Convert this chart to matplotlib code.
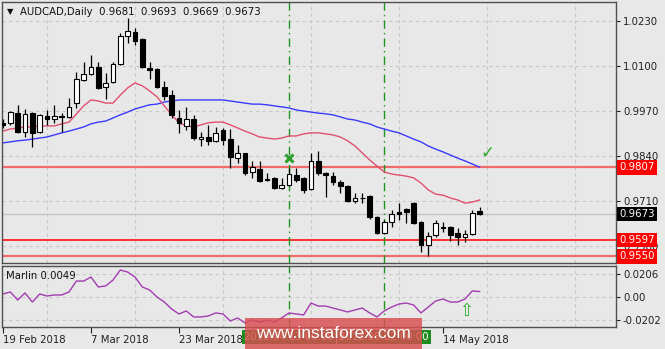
import matplotlib
matplotlib.use('Agg')
import matplotlib.pyplot as plt
import matplotlib.transforms as mtrans
from matplotlib.patches import Rectangle
import numpy as np

plt.rcParams['font.family'] = ['DejaVu Sans']

# daily AUDCAD candles, 19 Feb 2018 .. 17 May 2018
opens = [0.9936, 0.9936, 0.9964, 0.9910, 0.9964, 0.9910, 0.9956, 0.9947, 0.9956, 0.9953,
         0.9993, 1.0060, 1.0077, 1.0097, 1.0040, 1.0054, 1.0106, 1.0187, 1.0198, 1.0178,
         1.0094, 1.0092, 1.0040, 1.0016, 0.9950, 0.9927, 0.9947, 0.9889, 0.9895, 0.9884,
         0.9915, 0.9889, 0.9834, 0.9849, 0.9794, 0.9803, 0.9774, 0.9777, 0.9748, 0.9756,
         0.9785, 0.9777, 0.9745, 0.9826, 0.9791, 0.9782, 0.9765, 0.9753, 0.9710, 0.9719,
         0.9725, 0.9664, 0.9618, 0.9649, 0.9678, 0.9687, 0.9704, 0.9649, 0.9583, 0.9612,
         0.9635, 0.9635, 0.9618, 0.9606, 0.9615, 0.9681]
highs = [0.9947, 0.9970, 0.9988, 0.9976, 0.9967, 0.9962, 0.9973, 0.9988, 0.9964, 1.0008,
         1.0083, 1.0112, 1.0132, 1.0112, 1.0080, 1.0112, 1.0196, 1.0239, 1.0210, 1.0181,
         1.0112, 1.0094, 1.0057, 1.0031, 0.9973, 0.9982, 0.9959, 0.9909, 0.9930, 0.9924,
         0.9921, 0.9918, 0.9872, 0.9849, 0.9826, 0.9826, 0.9791, 0.9780, 0.9777, 0.9806,
         0.9806, 0.9780, 0.9849, 0.9855, 0.9794, 0.9794, 0.9771, 0.9756, 0.9733, 0.9733,
         0.9727, 0.9667, 0.9655, 0.9684, 0.9704, 0.9690, 0.9707, 0.9652, 0.9621, 0.9655,
         0.9649, 0.9638, 0.9632, 0.9626, 0.9684, 0.9693]
lows = [0.9921, 0.9930, 0.9907, 0.9895, 0.9866, 0.9907, 0.9930, 0.9936, 0.9910, 0.9950,
        0.9979, 1.0057, 1.0074, 1.0034, 1.0005, 1.0051, 1.0103, 1.0167, 1.0161, 1.0094,
        1.0063, 1.0037, 1.0002, 0.9950, 0.9907, 0.9915, 0.9886, 0.9869, 0.9872, 0.9881,
        0.9872, 0.9806, 0.9820, 0.9785, 0.9777, 0.9765, 0.9768, 0.9745, 0.9745, 0.9753,
        0.9765, 0.9733, 0.9742, 0.9785, 0.9722, 0.9756, 0.9733, 0.9707, 0.9704, 0.9704,
        0.9658, 0.9615, 0.9615, 0.9635, 0.9655, 0.9647, 0.9644, 0.9563, 0.9551, 0.9606,
        0.9621, 0.9595, 0.9583, 0.9592, 0.9612, 0.9669]
closes = [0.9930, 0.9967, 0.9910, 0.9962, 0.9907, 0.9959, 0.9947, 0.9956, 0.9953, 0.9982,
          1.0063, 1.0077, 1.0097, 1.0037, 1.0051, 1.0106, 1.0187, 1.0201, 1.0173, 1.0097,
          1.0089, 1.0040, 1.0014, 0.9959, 0.9936, 0.9947, 0.9892, 0.9895, 0.9884, 0.9907,
          0.9886, 0.9837, 0.9849, 0.9791, 0.9808, 0.9768, 0.9771, 0.9748, 0.9756, 0.9788,
          0.9771, 0.9742, 0.9826, 0.9791, 0.9785, 0.9765, 0.9753, 0.9710, 0.9719, 0.9718,
          0.9664, 0.9618, 0.9649, 0.9673, 0.9673, 0.9678, 0.9647, 0.9583, 0.9609, 0.9647,
          0.9632, 0.9612, 0.9606, 0.9615, 0.9675, 0.9673]

# moving averages (red = fast, blue = slow)
ma_fast = [0.9912, 0.9918, 0.9921, 0.9924, 0.9924, 0.9927, 0.9927, 0.9927, 0.9933, 0.9938,
           0.9961, 0.9985, 1.0002, 0.9999, 0.9993, 0.9993, 1.0016, 1.0037, 1.0051, 1.0043,
           1.0028, 1.0011, 0.9985, 0.9959, 0.9936, 0.9927, 0.9924, 0.9930, 0.9936, 0.9938,
           0.9938, 0.9930, 0.9921, 0.9912, 0.9904, 0.9895, 0.9892, 0.9889, 0.9892, 0.9898,
           0.9898, 0.9904, 0.9907, 0.9907, 0.9904, 0.9901, 0.9895, 0.9884, 0.9869, 0.9849,
           0.9829, 0.9811, 0.9794, 0.9788, 0.9785, 0.9782, 0.9777, 0.9762, 0.9742, 0.9730,
           0.9727, 0.9719, 0.9713, 0.9704, 0.9707, 0.9713]
ma_slow = [0.9878, 0.9881, 0.9884, 0.9886, 0.9889, 0.9892, 0.9895, 0.9901, 0.9907, 0.9912,
           0.9918, 0.9924, 0.9933, 0.9938, 0.9941, 0.9950, 0.9959, 0.9967, 0.9976, 0.9982,
           0.9988, 0.9990, 0.9996, 0.9999, 1.0002, 1.0002, 1.0002, 1.0002, 1.0002, 1.0002,
           1.0002, 0.9999, 0.9996, 0.9993, 0.9990, 0.9990, 0.9988, 0.9985, 0.9982, 0.9979,
           0.9973, 0.9970, 0.9967, 0.9964, 0.9962, 0.9959, 0.9953, 0.9947, 0.9944, 0.9938,
           0.9933, 0.9924, 0.9918, 0.9912, 0.9907, 0.9898, 0.9889, 0.9881, 0.9869, 0.9860,
           0.9852, 0.9843, 0.9834, 0.9826, 0.9817, 0.9808]

# Marlin oscillator
marlin = [0.0027, 0.0045, -0.0027, 0.0036, -0.0045, 0.0027, 0.0009, 0.0018, 0.0018, 0.0045,
          0.0143, 0.0143, 0.0179, 0.0090, 0.0099, 0.0152, 0.0242, 0.0224, 0.0179, 0.0090,
          0.0063, 0.0000, -0.0045, -0.0108, -0.0152, -0.0125, -0.0179, -0.0179, -0.0170, -0.0143,
          -0.0152, -0.0215, -0.0188, -0.0233, -0.0206, -0.0224, -0.0206, -0.0224, -0.0188, -0.0143,
          -0.0152, -0.0161, -0.0054, -0.0081, -0.0081, -0.0099, -0.0116, -0.0134, -0.0116, -0.0099,
          -0.0143, -0.0179, -0.0125, -0.0090, -0.0063, -0.0054, -0.0072, -0.0143, -0.0090, -0.0036,
          -0.0018, -0.0045, -0.0045, -0.0018, 0.0054, 0.0049]

date_pos = [0, 12, 24, 60]
date_labels = ['19 Feb 2018', '7 Mar 2018', '23 Mar 2018', '14 May 2018']
price_ticks = [1.0230, 1.0100, 0.9970, 0.9840, 0.9710, 0.9580]
osc_ticks = [0.0206, 0.0, -0.0202]
osc_tick_labels = ['0.0206', '0.00', '-0.0202']

levels = [0.9807, 0.9597, 0.9550]
level_colors = ['#f26a6a', '#ff1010', '#f26a6a']
level_widths = [1.6, 1.2, 1.6]
last_price = 0.9673

vline_pos = [39, 52]
vline_labels = ['2018.04.13 00:00', '2018.05.02 00:00']
cross_mark = (39, 0.9834)
check_mark = (66, 0.9849)
arrow_mark = (63.2, -0.0125)

bg = '#e8e8e8'
fs = 7.3

fig = plt.figure(figsize=(6.65, 3.49), dpi=100, facecolor=bg)
ax = fig.add_axes([2 / 665, 1 - 263 / 349, 614 / 665, 261 / 349], facecolor=bg)
ax2 = fig.add_axes([2 / 665, 1 - 327 / 349, 614 / 665, 61 / 349], facecolor=bg, sharex=ax)

o = np.array(opens)
h = np.array(highs)
l = np.array(lows)
c = np.array(closes)
x = np.arange(len(o))
up = c > o
body = np.where(np.abs(c - o) < 0.00003, 0.00004, c - o)

ax.plot(x, ma_slow, color='#3a3aff', lw=1.0, zorder=2)
ax.plot(x, ma_fast, color='#e0506e', lw=1.0, zorder=2)
ax.vlines(x, l, h, color='black', lw=0.9, zorder=3)
ax.bar(x[up], body[up], bottom=o[up], width=0.66, color='white', edgecolor='black', lw=0.8, zorder=4)
ax.bar(x[~up], body[~up], bottom=o[~up], width=0.66, color='black', edgecolor='black', lw=0.8, zorder=4)

for lev, col, lw in zip(levels, level_colors, level_widths):
    ax.axhline(lev, color=col, lw=lw, zorder=1.5)
ax.axhline(last_price, color='#c4c4c4', lw=1.0, zorder=1.2)

for vp in vline_pos:
    ax.axvline(vp, color='#1e961e', lw=1.0, ls=(0, (6, 3, 1, 3)), zorder=1.6)
    ax2.axvline(vp, color='#1e961e', lw=1.0, ls=(0, (6, 3, 1, 3)), zorder=1.6)

ax.plot(*cross_mark, marker='x', color='#2e9e2e', ms=6, mew=2.2, zorder=5)
ax.text(*check_mark, '✓', color='#22aa22', fontsize=12, fontweight='bold', ha='center', va='center', zorder=5)

ax2.plot(x, marlin, color='#a23cb0', lw=1.0)
ax2.text(*arrow_mark, '⇧', color='#22aa22', fontsize=12, ha='center', va='center')

# axes limits from pixel layout (7.33 px per bar)
ax.set_xlim(-0.136, 83.6)
ax.set_ylim(0.9531, 1.0285)
ax2.set_ylim(-0.0269, 0.0278)

grid_pos = [6, 18, 30, 42, 54, 66, 78]
for a in (ax, ax2):
    for s in a.spines.values():
        s.set_color('#505050')
        s.set_linewidth(1.0)
    a.yaxis.tick_right()
    a.tick_params(axis='y', direction='out', length=3, width=0.8, labelsize=fs, pad=2, colors='#202020')
    for gp in grid_pos:
        a.axvline(gp, color='#c8c8c8', lw=0.8, ls=(0, (3, 3)), zorder=0.5)

ax.set_yticks(price_ticks)
ax.set_yticklabels([f'{t:.4f}' for t in price_ticks])
for t in price_ticks:
    ax.axhline(t, color='#c8c8c8', lw=0.8, ls=(0, (3, 3)), zorder=0.5)
ax.tick_params(axis='x', length=0, labelbottom=False)

ax2.set_yticks(osc_ticks)
ax2.set_yticklabels(osc_tick_labels)
for t in osc_ticks:
    ax2.axhline(t, color='#c8c8c8', lw=0.8, ls=(0, (3, 3)), zorder=0.5)
ax2.set_xticks(date_pos)
ax2.set_xticklabels(date_labels, ha='left')
ax2.tick_params(axis='x', direction='out', length=4, width=0.8, labelsize=fs, pad=2, colors='#202020')

# price boxes on the right scale
ytr = ax.get_yaxis_transform()
for lev in levels:
    ax.text(1.0055, lev, f'{lev:.4f}', transform=ytr, color='white', fontsize=fs, ha='left', va='center',
            bbox=dict(boxstyle='square,pad=0.22', fc='#ff0000', ec='none'), clip_on=False, zorder=10)
ax.text(1.0055, last_price, f'{last_price:.4f}', transform=ytr, color='white', fontsize=fs, ha='left', va='center',
        bbox=dict(boxstyle='square,pad=0.22', fc='#000000', ec='none'), clip_on=False, zorder=10)

# header and indicator caption
ax.text(0.008, 0.962, '▼', transform=ax.transAxes, fontsize=6, va='center', ha='left', color='#101010')
ax.text(0.029, 0.962, 'AUDCAD,Daily  0.9681  0.9693  0.9669  0.9673', transform=ax.transAxes,
        fontsize=fs, va='center', ha='left', color='#101010')
ax2.text(0.0065, 0.83, 'Marlin 0.0049', transform=ax2.transAxes, fontsize=fs, va='center', ha='left', color='#101010')

# vertical line date labels
btr = mtrans.blended_transform_factory(ax2.transData, ax2.transAxes)
for vp, lab in zip(vline_pos, vline_labels):
    ax2.text(vp, -0.17, lab, transform=btr, color='white', fontsize=fs, ha='center', va='center',
             bbox=dict(boxstyle='square,pad=0.2', fc='#1e8c1e', ec='none'), clip_on=False, zorder=10)

# watermark
fig.patches.append(Rectangle((245 / 665, 0), 177 / 665, 31 / 349, transform=fig.transFigure,
                             fc='#d94d4f', alpha=0.82, ec='none', zorder=20))
fig.text(333.5 / 665, 15.5 / 349, 'www.instaforex.com', color='white', fontsize=12.5,
         family='Liberation Sans', ha='center', va='center', zorder=21)

fig.savefig('out.png', dpi=100, facecolor=bg)
plt.close(fig)
